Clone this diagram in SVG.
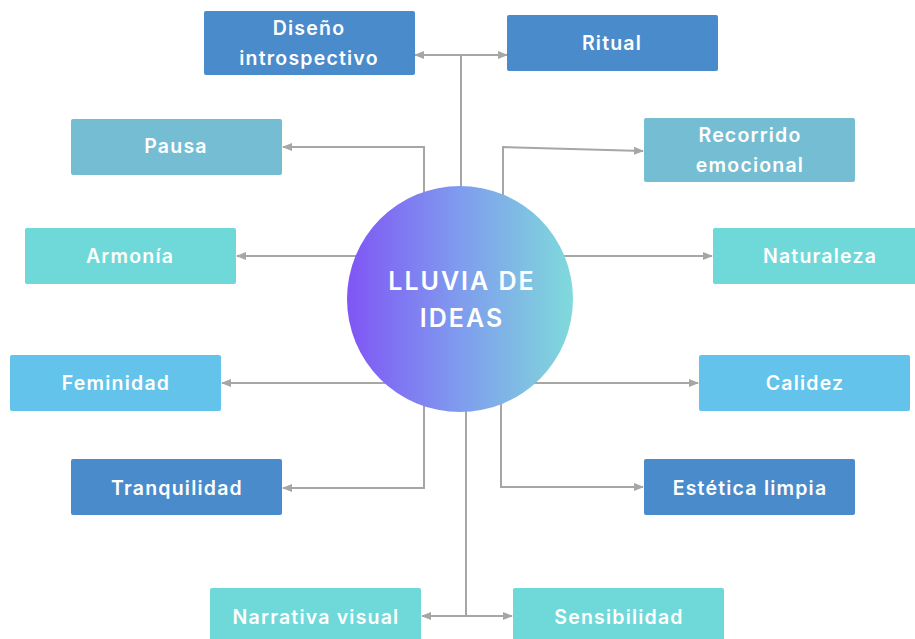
<svg xmlns="http://www.w3.org/2000/svg" width="915" height="639" viewBox="0 0 915 639">
<style>
.lbl{font-family:Inter,"Open Sans","Liberation Sans",sans-serif;font-weight:600;font-size:19.5px;fill:#ffffff;letter-spacing:1.2px;text-anchor:middle}
.ctr{font-family:Inter,"Open Sans","Liberation Sans",sans-serif;font-weight:600;font-size:25px;fill:#ffffff;letter-spacing:2px;text-anchor:middle}
.c{fill:none;stroke:#a6a6a6;stroke-width:2}
.b1{fill:#4a8bcb}
.b2{fill:#74bdd3}
.b3{fill:#6fd8d8}
.b4{fill:#63c3eb}
</style>
<defs>
<marker id="ah" markerUnits="userSpaceOnUse" markerWidth="10" markerHeight="10" viewBox="0 0 10 10" refX="9" refY="5" orient="auto-start-reverse">
<path d="M0,1 L10,5 L0,9 Z" fill="#a6a6a6"/>
</marker>
<linearGradient id="g" x1="0" y1="0" x2="1" y2="0">
<stop offset="0" stop-color="#8055f5"/>
<stop offset="0.5" stop-color="#7f9cee"/>
<stop offset="1" stop-color="#7fdadb"/>
</linearGradient>
</defs>
<g id="connectors">
<path class="c" d="M461,200 V55"/>
<path class="c" d="M461,55 H415" marker-end="url(#ah)"/>
<path class="c" d="M461,55 H507" marker-end="url(#ah)"/>
<path class="c" d="M424,210 V147 H283" marker-end="url(#ah)"/>
<path class="c" d="M503,210 V147 L643,151" marker-end="url(#ah)"/>
<path class="c" d="M370,256 H237" marker-end="url(#ah)"/>
<path class="c" d="M550,256 H712" marker-end="url(#ah)"/>
<path class="c" d="M400,383 H222" marker-end="url(#ah)"/>
<path class="c" d="M520,383 H698" marker-end="url(#ah)"/>
<path class="c" d="M424,390 V488 H283" marker-end="url(#ah)"/>
<path class="c" d="M501,390 V487 H643" marker-end="url(#ah)"/>
<path class="c" d="M466,400 V616"/>
<path class="c" d="M466,616 H422" marker-end="url(#ah)"/>
<path class="c" d="M466,616 H512" marker-end="url(#ah)"/>
</g>
<g id="center">
<circle cx="460" cy="299" r="113" fill="url(#g)"/>
<text class="ctr" x="462" y="290">LLUVIA DE</text>
<text class="ctr" x="462" y="327">IDEAS</text>
</g>
<g id="diseno">
<rect class="b1" x="204" y="11" width="211" height="64" rx="2"/>
<text class="lbl" x="309" y="35">Diseño</text>
<text class="lbl" x="309" y="65">introspectivo</text>
</g>
<g id="ritual">
<rect class="b1" x="507" y="15" width="211" height="56" rx="2"/>
<text class="lbl" x="612" y="50">Ritual</text>
</g>
<g id="pausa">
<rect class="b2" x="71" y="119" width="211" height="56" rx="2"/>
<text class="lbl" x="176" y="153">Pausa</text>
</g>
<g id="recorrido">
<rect class="b2" x="644" y="118" width="211" height="64" rx="2"/>
<text class="lbl" x="750" y="142">Recorrido</text>
<text class="lbl" x="750" y="172">emocional</text>
</g>
<g id="armonia">
<rect class="b3" x="25" y="228" width="211" height="56" rx="2"/>
<text class="lbl" x="130" y="263">Armonía</text>
</g>
<g id="naturaleza">
<rect class="b3" x="713" y="228" width="205" height="56" rx="2"/>
<text class="lbl" x="820" y="263">Naturaleza</text>
</g>
<g id="feminidad">
<rect class="b4" x="10" y="355" width="211" height="56" rx="2"/>
<text class="lbl" x="116" y="390">Feminidad</text>
</g>
<g id="calidez">
<rect class="b4" x="699" y="355" width="211" height="56" rx="2"/>
<text class="lbl" x="805" y="390">Calidez</text>
</g>
<g id="tranquilidad">
<rect class="b1" x="71" y="459" width="211" height="56" rx="2"/>
<text class="lbl" x="177" y="495">Tranquilidad</text>
</g>
<g id="estetica">
<rect class="b1" x="644" y="459" width="211" height="56" rx="2"/>
<text class="lbl" x="750" y="495">Estética limpia</text>
</g>
<g id="narrativa">
<rect class="b3" x="210" y="588" width="211" height="56" rx="2"/>
<text class="lbl" x="316" y="624">Narrativa visual</text>
</g>
<g id="sensibilidad">
<rect class="b3" x="513" y="588" width="211" height="56" rx="2"/>
<text class="lbl" x="619" y="624">Sensibilidad</text>
</g>
</svg>
